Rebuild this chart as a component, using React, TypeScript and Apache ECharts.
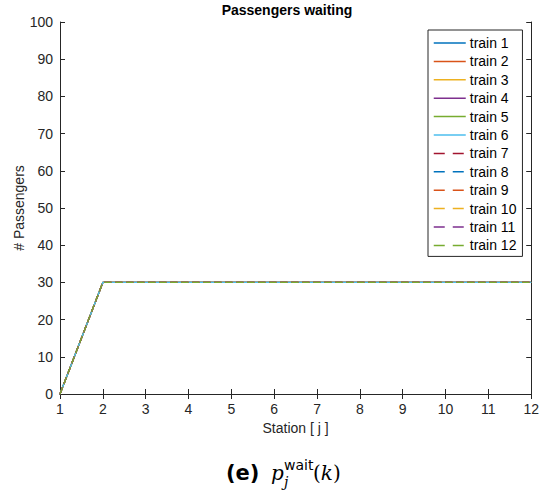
import React, { useEffect, useRef } from "react";
import * as echarts from "echarts";

// Stations along the line (x axis)
const stations = [1, 2, 3, 4, 5, 6, 7, 8, 9, 10, 11, 12];

// Passengers waiting at each station, one row per train
const trainNames = [
  "train 1", "train 2", "train 3", "train 4", "train 5", "train 6",
  "train 7", "train 8", "train 9", "train 10", "train 11", "train 12",
];
const waitingTrain1 = [0, 30, 30, 30, 30, 30, 30, 30, 30, 30, 30, 30];
const waitingTrain2 = [0, 30, 30, 30, 30, 30, 30, 30, 30, 30, 30, 30];
const waitingTrain3 = [0, 30, 30, 30, 30, 30, 30, 30, 30, 30, 30, 30];
const waitingTrain4 = [0, 30, 30, 30, 30, 30, 30, 30, 30, 30, 30, 30];
const waitingTrain5 = [0, 30, 30, 30, 30, 30, 30, 30, 30, 30, 30, 30];
const waitingTrain6 = [0, 30, 30, 30, 30, 30, 30, 30, 30, 30, 30, 30];
const waitingTrain7 = [0, 30, 30, 30, 30, 30, 30, 30, 30, 30, 30, 30];
const waitingTrain8 = [0, 30, 30, 30, 30, 30, 30, 30, 30, 30, 30, 30];
const waitingTrain9 = [0, 30, 30, 30, 30, 30, 30, 30, 30, 30, 30, 30];
const waitingTrain10 = [0, 30, 30, 30, 30, 30, 30, 30, 30, 30, 30, 30];
const waitingTrain11 = [0, 30, 30, 30, 30, 30, 30, 30, 30, 30, 30, 30];
const waitingTrain12 = [0, 30, 30, 30, 30, 30, 30, 30, 30, 30, 30, 30];
const waitingByTrain = [
  waitingTrain1, waitingTrain2, waitingTrain3, waitingTrain4,
  waitingTrain5, waitingTrain6, waitingTrain7, waitingTrain8,
  waitingTrain9, waitingTrain10, waitingTrain11, waitingTrain12,
];

// Classic colour order; the dashed set reuses it after the seventh train
const trainColors = [
  "#0072BD", "#D95319", "#EDB120", "#7E2F8E", "#77AC30", "#4DBEEE",
  "#A2142F", "#0072BD", "#D95319", "#EDB120", "#7E2F8E", "#77AC30",
];
const trainDashed = [false, false, false, false, false, false, true, true, true, true, true, true];

const AXIS = "#262626";
const FONT = "'Liberation Sans', Arial, Helvetica, sans-serif";

export default function App() {
  const ref = useRef<HTMLDivElement>(null);

  useEffect(() => {
    if (!ref.current) return;
    const chart = echarts.init(ref.current, undefined, { renderer: "svg" });

    const tickStyle = { show: true, inside: true, length: 5, lineStyle: { color: AXIS, width: 1 } };
    const lineStyle = { show: true, lineStyle: { color: AXIS, width: 1 } };

    chart.setOption({
      animation: false,
      backgroundColor: "#ffffff",
      textStyle: { fontFamily: FONT },
      grid: { left: 60, right: 9, top: 22, bottom: 104, containLabel: false },
      legend: {
        orient: "vertical",
        left: 428,
        top: 30,
        data: trainNames.map((name, i) => ({
          name,
          lineStyle: {
            color: trainColors[i],
            width: 1.5,
            type: trainDashed[i] ? [11, 8] : "solid",
          },
        })),
        itemWidth: 32,
        itemHeight: 14,
        itemGap: 4.4,
        padding: [6, 6, 4, 5],
        borderColor: AXIS,
        borderWidth: 1,
        backgroundColor: "#ffffff",
        itemStyle: { opacity: 0 },
        textStyle: { fontFamily: FONT, fontSize: 14, color: "#000", padding: [0, 0, 0, -1] },
        selectedMode: false,
      },
      xAxis: [
        {
          type: "value",
          position: "bottom",
          min: 1,
          max: 12,
          interval: 1,
          axisLine: lineStyle,
          axisTick: tickStyle,
          splitLine: { show: false },
          axisLabel: { fontSize: 14, color: AXIS, margin: 8, fontFamily: FONT },
          name: "Station [ j ]",
          nameLocation: "middle",
          nameGap: 26,
          nameTextStyle: { fontSize: 14, color: AXIS, fontFamily: FONT },
        },
        {
          type: "value",
          position: "top",
          min: 1,
          max: 12,
          interval: 1,
          axisLine: lineStyle,
          axisTick: tickStyle,
          splitLine: { show: false },
          axisLabel: { show: false },
        },
      ],
      yAxis: [
        {
          type: "value",
          position: "left",
          min: 0,
          max: 100,
          interval: 10,
          axisLine: lineStyle,
          axisTick: tickStyle,
          splitLine: { show: false },
          axisLabel: { fontSize: 14, color: AXIS, margin: 7, fontFamily: FONT },
          name: "# Passengers",
          nameLocation: "middle",
          nameGap: 34,
          nameMoveOverlap: false,
          nameTextStyle: { fontSize: 14, color: AXIS, fontFamily: FONT },
        },
        {
          type: "value",
          position: "right",
          min: 0,
          max: 100,
          interval: 10,
          axisLine: lineStyle,
          axisTick: tickStyle,
          splitLine: { show: false },
          axisLabel: { show: false },
        },
      ],
      series: waitingByTrain.map((values, i) => ({
        type: "line",
        name: trainNames[i],
        xAxisIndex: 0,
        yAxisIndex: 0,
        data: stations.map((s, k) => [s, values[k]]),
        showSymbol: false,
        symbol: "none",
        color: trainColors[i],
        lineStyle: {
          color: trainColors[i],
          width: 1.3,
          type: trainDashed[i] ? [7, 4] : "solid",
        },
      })),
      graphic: [
        {
          type: "text",
          x: 287,
          y: 10,
          style: {
            text: "Passengers waiting",
            fontFamily: FONT,
            fontSize: 14,
            fontWeight: "bold",
            fill: "#000",
            align: "center",
            verticalAlign: "middle",
          },
        },
        // caption: (e) p_j^wait(k)
        {
          type: "text",
          x: 226,
          y: 473,
          style: {
            text: "(e)",
            fontFamily: "'DejaVu Sans', sans-serif",
            fontSize: 21,
            fontWeight: "bold",
            fill: "#000",
            align: "left",
            verticalAlign: "middle",
          },
        },
        {
          type: "text",
          x: 271,
          y: 473,
          style: {
            text: "p",
            fontFamily: "'DejaVu Serif', 'Liberation Serif', serif",
            fontSize: 20,
            fontStyle: "italic",
            fill: "#000",
            align: "left",
            verticalAlign: "middle",
          },
        },
        {
          type: "text",
          x: 284,
          y: 465,
          style: {
            text: "wait",
            fontFamily: "'DejaVu Sans', sans-serif",
            fontSize: 14,
            fill: "#000",
            align: "left",
            verticalAlign: "middle",
          },
        },
        {
          type: "text",
          x: 284,
          y: 482,
          style: {
            text: "j",
            fontFamily: "'DejaVu Serif', 'Liberation Serif', serif",
            fontSize: 14,
            fontStyle: "italic",
            fill: "#000",
            align: "left",
            verticalAlign: "middle",
          },
        },
        {
          type: "text",
          x: 313,
          y: 473,
          style: {
            rich: {
              r: { fontFamily: "'DejaVu Serif', 'Liberation Serif', serif", fontSize: 20, fill: "#000" },
              i: { fontFamily: "'DejaVu Serif', 'Liberation Serif', serif", fontSize: 20, fontStyle: "italic", fill: "#000" },
            },
            text: "{r|(}{i|k}{r|)}",
            align: "left",
            verticalAlign: "middle",
          },
        },
      ],
    });

    return () => chart.dispose();
  }, []);

  return (
    <div
      ref={ref}
      style={{ position: "fixed", left: 0, top: 0, width: 542, height: 498, background: "#fff" }}
    />
  );
}
